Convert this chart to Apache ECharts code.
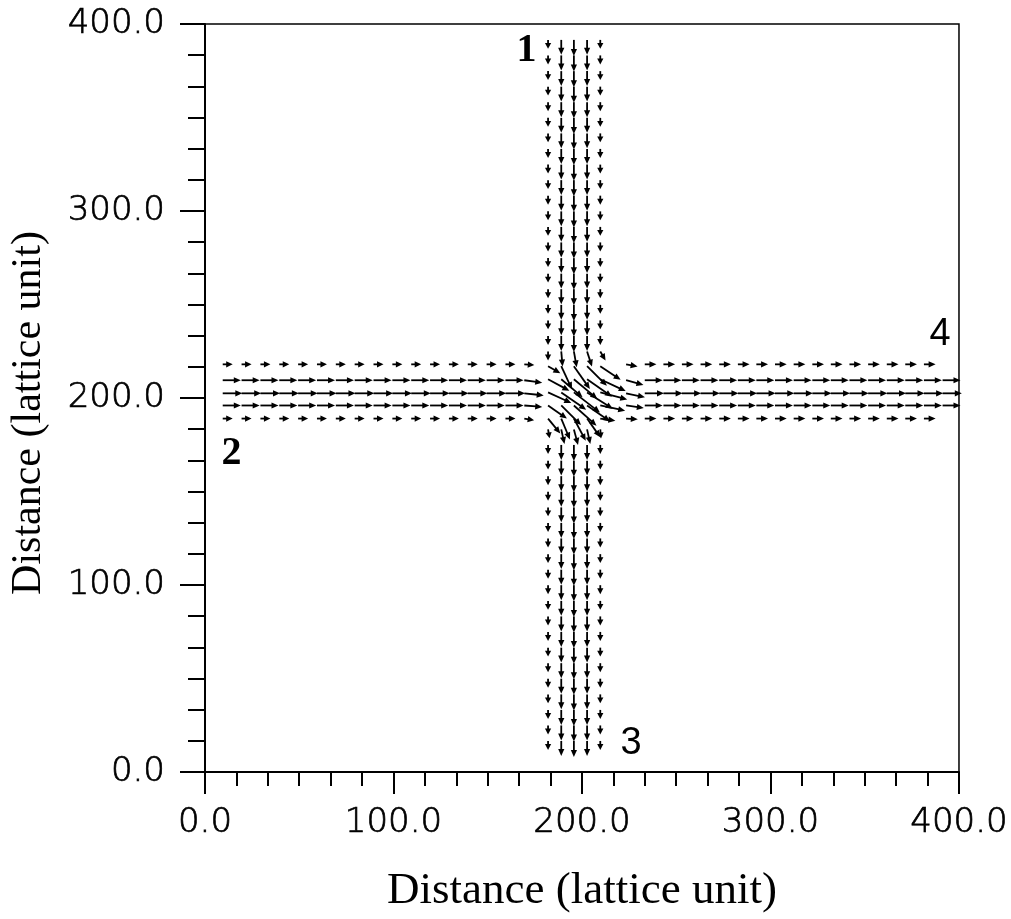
<!DOCTYPE html>
<html>
<head>
<meta charset="utf-8">
<script src="https://cdn.jsdelivr.net/npm/echarts@6/dist/echarts.min.js"></script>
<style>html,body{margin:0;padding:0;background:#fff;}#chart{width:1011px;height:919px;}</style>
</head>
<body>
<div id="chart"></div>
<script>
// ---- axis ----
const axisMin = 0, axisMax = 400, axisStep = 100;
const axisTitle = 'Distance (lattice unit)';

// ---- left arm (flow from 2, pointing +x) ----
const leftArmX = [9.4, 19.4, 29.4, 39.4, 49.4, 59.4, 69.4, 79.4, 89.4, 99.4, 109.4, 119.4, 129.4, 139.4, 149.4, 159.4];
const hLaneY = [218.0, 209.5, 202.5, 196.0, 189.0];
const leftLaneU = [5.3, 9.6, 10.4, 9.6, 5.3];

// ---- right arm (flow to 4, pointing +x) ----
const rightArmX = [233.3, 243.2, 253.0, 262.9, 272.8, 282.7, 292.5, 302.4, 312.3, 322.2, 332.0, 341.9, 351.8, 361.7, 371.5, 381.4, 391.3];
const rightLaneU = [6.2, 9.5, 10.2, 9.5, 6.2];
const rightLaneCount = [16, 17, 17, 17, 16];

// ---- top arm (flow from 1, pointing -y) ----
const topArmY = [391.5, 383.2, 374.8, 366.5, 358.2, 349.8, 341.5, 333.2, 324.8, 316.5, 308.2, 299.8, 291.5, 283.2, 274.8, 266.5, 258.2, 249.8, 241.5, 233.2];
const vLaneX = [182.0, 189.0, 195.7, 202.7, 209.7];
const topLaneV = [-4.8, -8.0, -8.6, -8.0, -4.8];

// ---- bottom arm (flow to 3, pointing -y) ----
const bottomArmY = [174.9, 166.5, 158.2, 149.9, 141.5, 133.2, 124.9, 116.5, 108.2, 99.9, 91.5, 83.2, 74.9, 66.5, 58.2, 49.9, 41.5, 33.2, 24.9, 16.6];
const bottomLaneV = [-4.8, -8.0, -8.6, -8.0, -4.8];

// ---- junction and bending vectors near the crossing ----
const junctionX = [
  182.0, 189.0, 195.7, 202.7, 209.7,
  182.0, 189.0, 195.7, 202.7, 209.7,
  182.0, 189.0, 195.7, 202.7, 209.7,
  182.0, 189.0, 195.7, 202.7, 209.7,
  182.0, 189.0, 195.7, 202.7, 209.7,
  182.0, 189.0, 195.7, 202.7, 209.7,
  169.4, 169.4, 169.4, 169.4, 169.4,
  182.0, 189.0, 195.7, 202.7, 209.7,
  223.4, 223.4, 223.4, 223.4, 223.4];
const junctionY = [
  217.0, 217.0, 217.0, 217.0, 217.0,
  210.0, 210.0, 210.0, 210.0, 210.0,
  203.0, 203.0, 203.0, 203.0, 203.0,
  196.0, 196.0, 196.0, 196.0, 196.0,
  189.0, 189.0, 189.0, 189.0, 189.0,
  224.9, 224.9, 224.9, 224.9, 224.9,
  218.0, 209.5, 202.5, 196.0, 189.0,
  183.2, 183.2, 183.2, 183.2, 183.2,
  218.0, 209.5, 202.5, 196.0, 189.0];
const junctionU = [
  6.5, 5.7, 8.5, 10.5, 10.8,
  11.3, 11.3, 12.4, 13.2, 13.5,
  12.3, 13.2, 13.8, 13.6, 14.3,
  10.0, 10.5, 12.0, 12.2, 13.2,
  6.5, 4.6, 6.3, 7.0, 8.0,
  0.0, 0.7, 1.5, 2.6, 2.8,
  5.3, 9.5, 10.3, 9.5, 5.2,
  0.8, 1.7, 2.2, 1.7, 0.4,
  6.1, 9.2, 10.0, 9.4, 6.2];
const junctionV = [
  -3.8, -12.3, -12.2, -10.5, -7.3,
  -6.1, -9.6, -10.4, -9.3, -6.3,
  -5.7, -9.3, -10.8, -8.8, -3.8,
  -7.0, -10.5, -10.8, -8.5, -2.8,
  -8.0, -11.2, -11.9, -10.0, -1.1,
  -4.8, -8.0, -8.5, -8.1, -4.8,
  -0.4, -1.3, -1.1, -0.8, -0.9,
  -4.7, -7.8, -8.3, -7.8, -4.8,
  -1.1, -2.5, -2.1, -1.3, -0.3];

// ---- channel labels ----
const markerText = ['1', '2', '3', '4'];
const markerX = [170.5, 14.0, 226.0, 390.0];
const markerY = [386.0, 170.0, 15.0, 234.0];

// build vectors [x, y, u, v]
const vectors = [];
hLaneY.forEach((y, i) => leftArmX.forEach(x => vectors.push([x, y, leftLaneU[i], 0])));
hLaneY.forEach((y, i) => rightArmX.slice(0, rightLaneCount[i]).forEach(x => vectors.push([x, y, rightLaneU[i], 0])));
vLaneX.forEach((x, i) => topArmY.forEach(y => vectors.push([x, y, 0, topLaneV[i]])));
vLaneX.forEach((x, i) => bottomArmY.forEach(y => vectors.push([x, y, 0, bottomLaneV[i]])));
junctionX.forEach((x, i) => vectors.push([x, junctionY[i], junctionU[i], junctionV[i]]));

const markers = markerText.map((t, i) => [markerX[i], markerY[i], i]);
const markerFonts = ['bold 40px "Liberation Serif"', 'bold 40px "Liberation Serif"', '38px "Liberation Sans"', '38px "Liberation Sans"'];

const chart = echarts.init(document.getElementById('chart'), null, { renderer: 'canvas' });

function renderArrow(params, api) {
  const x = api.value(0), y = api.value(1), u = api.value(2), v = api.value(3);
  const p0 = api.coord([x, y]);
  const p1 = api.coord([x + u, y + v]);
  const dx = p1[0] - p0[0], dy = p1[1] - p0[1];
  const L = Math.hypot(dx, dy) || 1;
  const ux = dx / L, uy = dy / L;
  const hl = Math.min(7, L * 0.65), hw = 3.1;
  const bx = p1[0] - ux * hl, by = p1[1] - uy * hl;
  return {
    type: 'group',
    children: [
      { type: 'line', shape: { x1: p0[0], y1: p0[1], x2: bx + ux, y2: by + uy }, style: { stroke: '#000', lineWidth: 1.8 } },
      { type: 'polygon', shape: { points: [[p1[0], p1[1]], [bx - uy * hw, by + ux * hw], [bx + uy * hw, by - ux * hw]] }, style: { fill: '#000' } }
    ]
  };
}

function renderMarker(params, api) {
  const p = api.coord([api.value(0), api.value(1)]);
  const idx = api.value(2);
  return {
    type: 'text', x: p[0], y: p[1],
    style: { text: markerText[idx], font: markerFonts[idx], fill: '#000', align: 'center', verticalAlign: 'middle' }
  };
}

const tickFont = { fontFamily: 'DejaVu Sans', fontWeight: 200, fontSize: 34, color: '#000', textBorderColor: '#000', textBorderWidth: 0.7 };

chart.setOption({
  backgroundColor: '#fff',
  animation: false,
  grid: { left: 203, right: 52, top: 24, bottom: 146, show: true, borderColor: '#000', borderWidth: 1.5, backgroundColor: 'transparent' },
  xAxis: {
    type: 'value', min: axisMin, max: axisMax, interval: axisStep,
    name: axisTitle, nameLocation: 'middle', nameGap: 97,
    nameTextStyle: { fontFamily: 'Liberation Serif', fontSize: 45, color: '#000' },
    axisLine: { show: true, lineStyle: { color: '#000', width: 2 } },
    axisTick: { show: true, inside: false, length: 22, lineStyle: { color: '#000', width: 2 } },
    minorTick: { show: true, splitNumber: 6, length: 14, lineStyle: { color: '#000', width: 2 } },
    splitLine: { show: false },
    axisLabel: Object.assign({ margin: 34, formatter: v => v.toFixed(1) }, tickFont)
  },
  yAxis: {
    type: 'value', min: axisMin, max: axisMax, interval: axisStep,
    name: axisTitle, nameLocation: 'middle', nameGap: 155,
    nameTextStyle: { fontFamily: 'Liberation Serif', fontSize: 42, color: '#000', padding: [0, 30, 0, 0] },
    axisLine: { show: true, lineStyle: { color: '#000', width: 2 } },
    axisTick: { show: true, inside: false, length: 25, lineStyle: { color: '#000', width: 2 } },
    minorTick: { show: true, splitNumber: 6, length: 17, lineStyle: { color: '#000', width: 2 } },
    splitLine: { show: false },
    axisLabel: Object.assign({ margin: 40, formatter: v => v.toFixed(1) }, tickFont)
  },
  series: [
    {
      type: 'custom',
      renderItem: renderArrow,
      data: vectors,
      encode: { x: 0, y: 1 },
      clip: false,
      silent: true
    },
    {
      type: 'custom',
      renderItem: renderMarker,
      data: markers,
      encode: { x: 0, y: 1 },
      clip: false,
      silent: true
    }
  ]
});
</script>
</body>
</html>
